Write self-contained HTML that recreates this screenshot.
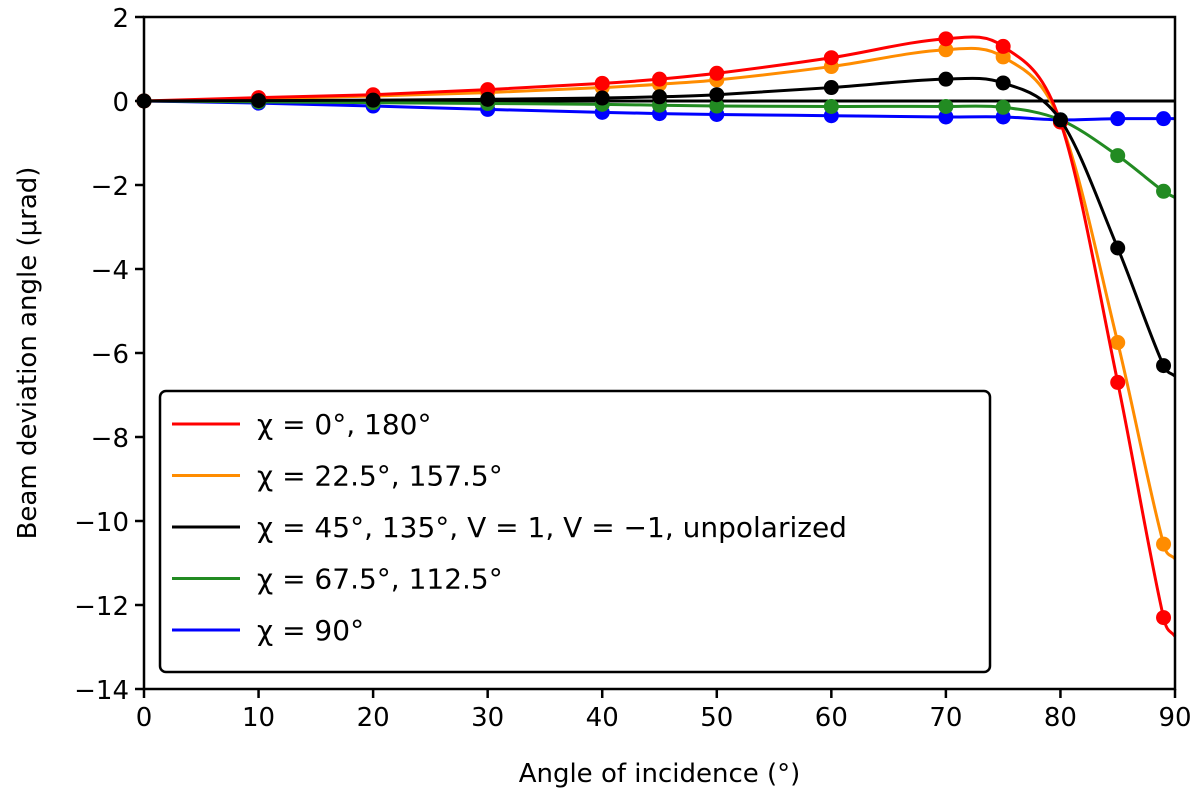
<!DOCTYPE html>
<html><head><meta charset="utf-8"><style>
body{margin:0;background:#fff}
svg text{font-family:"DejaVu Sans","Liberation Sans",sans-serif;fill:#000}
</style></head><body>
<svg id="chart" width="1200" height="799" viewBox="0 0 1200 799" xmlns="http://www.w3.org/2000/svg">
<g id="marks"></g>
<g id="axes"></g>
</svg>
<script>
const xPts=[0,10,20,30,40,45,50,60,70,75,80,85,89];
const redVals=[0,0.08,0.15,0.27,0.42,0.52,0.66,1.03,1.48,1.3,-0.5,-6.7,-12.3];
const orangeVals=[0,0.05,0.12,0.2,0.32,0.4,0.5,0.82,1.22,1.05,-0.5,-5.75,-10.55];
const blackVals=[0,0.01,0.02,0.04,0.07,0.1,0.15,0.32,0.52,0.43,-0.45,-3.5,-6.3];
const greenVals=[0,-0.02,-0.04,-0.06,-0.08,-0.1,-0.12,-0.13,-0.13,-0.15,-0.45,-1.3,-2.15];
const blueVals=[0,-0.05,-0.12,-0.2,-0.27,-0.3,-0.32,-0.35,-0.38,-0.38,-0.45,-0.42,-0.42];
const endVals=[-12.75,-10.9,-6.55,-2.3,-0.42];
const xTicks=[0,10,20,30,40,50,60,70,80,90];
const yTicks=[2,0,-2,-4,-6,-8,-10,-12,-14];
const legendLabels=["χ = 0°, 180°","χ = 22.5°, 157.5°","χ = 45°, 135°, V = 1, V = −1, unpolarized","χ = 67.5°, 112.5°","χ = 90°"];
const colors=["#ff0000","#ff8c00","#000000","#228b22","#0000ff"];
const names=["red","orange","black","green","blue"];

const X0=144,X1=1175,Y0=17,Y1=689;
const sx=v=>X0+(v-0)/(90-0)*(X1-X0);
const sy=v=>Y0+(2-v)/(2-(-14))*(Y1-Y0);
const NS="http://www.w3.org/2000/svg";
const marks=document.getElementById('marks'),axes=document.getElementById('axes');
function mk(tag,attrs,parent){const e=document.createElementNS(NS,tag);for(const k in attrs)e.setAttribute(k,attrs[k]);parent.appendChild(e);return e;}

const zl=mk('line',{x1:sx(0),x2:sx(90),y1:sy(0),y2:sy(0),stroke:'#000','stroke-width':3},marks);



function smooth(xs,ys){
 const n=xs.length,m=[];
 for(let i=0;i<n;i++){
  if(i===0)m.push((ys[1]-ys[0])/(xs[1]-xs[0]));
  else if(i===n-1)m.push((ys[n-1]-ys[n-2])/(xs[n-1]-xs[n-2]));
  else m.push((ys[i+1]-ys[i-1])/(xs[i+1]-xs[i-1]));
 }
 let d=`M${sx(xs[0])},${sy(ys[0])}`;
 for(let i=0;i<n-1;i++){
  const h=xs[i+1]-xs[i];
  d+=` C${sx(xs[i]+h/3)},${sy(ys[i]+m[i]*h/3)} ${sx(xs[i+1]-h/3)},${sy(ys[i+1]-m[i+1]*h/3)} ${sx(xs[i+1])},${sy(ys[i+1])}`;
 }
 return d;
}
const series=[redVals,orangeVals,blackVals,greenVals,blueVals];
[4,3,1,0,2].forEach(si=>{
 const vals=series[si];
 const xs=xPts.concat([90]),ys=vals.concat([endVals[si]]);
 const p=mk('path',{d:smooth(xs,ys),fill:'none',stroke:colors[si],'stroke-width':3},marks);
 
 
 xPts.forEach((x,i)=>{
  const c=mk('circle',{cx:sx(x),cy:sy(vals[i]),r:7.5,fill:colors[si]},marks);
  
  
 });
});

const fr=mk('rect',{x:X0,y:Y0,width:X1-X0,height:Y1-Y0,fill:'none',stroke:'#000','stroke-width':2.5},axes);


xTicks.forEach(t=>{
 mk('line',{x1:sx(t),x2:sx(t),y1:Y1,y2:Y1+9,stroke:'#000','stroke-width':2.5},axes);
 const tx=mk('text',{x:sx(t),y:Y1+37,'font-size':26,'text-anchor':'middle'},axes);
 tx.textContent=t;
 
 
});
yTicks.forEach(t=>{
 mk('line',{x1:X0-9,x2:X0,y1:sy(t),y2:sy(t),stroke:'#000','stroke-width':2.5},axes);
 const tx=mk('text',{x:X0-15,y:sy(t)+10,'font-size':26,'text-anchor':'end'},axes);
 tx.textContent=t<0?'−'+(-t):t;
 
 
});
const xl=mk('text',{x:(X0+X1)/2,y:782,'font-size':26,'text-anchor':'middle'},axes);
xl.textContent='Angle of incidence (°)';


const yl=mk('text',{x:0,y:0,'font-size':26,'text-anchor':'middle',transform:`translate(36,${(Y0+Y1)/2}) rotate(-90)`},axes);
yl.textContent='Beam deviation angle (μrad)';



const lg=mk('g',{},axes);


mk('rect',{x:160,y:391,width:830,height:281,rx:6,fill:'#fff',stroke:'#000','stroke-width':2.5},lg);
legendLabels.forEach((l,i)=>{
 const y=424+i*51.5;
 const g=mk('g',{},lg);
 
 
 mk('line',{x1:172,x2:240,y1:y,y2:y,stroke:colors[i],'stroke-width':3},g);
 const t=mk('text',{x:257,y:y+10,'font-size':28},g);
 t.textContent=l;
});
</script>
</body></html>
